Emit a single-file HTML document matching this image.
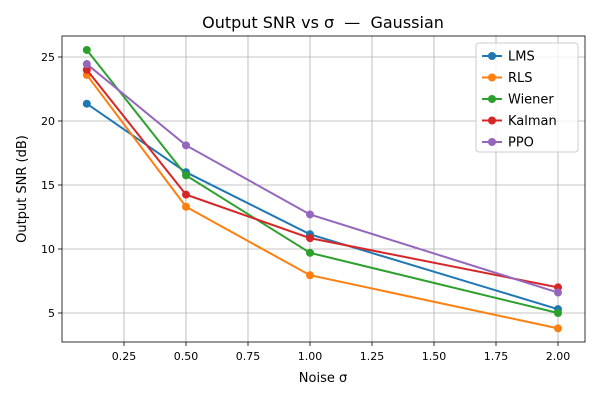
<!DOCTYPE html>
<html><head><meta charset="utf-8">
<style>
body{margin:0;background:#fff;font-family:"Liberation Sans","DejaVu Sans",sans-serif;}
svg text{font-family:"DejaVu Sans","Liberation Sans",sans-serif;}
</style></head>
<body>
<svg id="chart" width="600" height="400" viewBox="0 0 600 400" xmlns="http://www.w3.org/2000/svg">
<rect width="600" height="400" fill="#fff"/>
<text x="323" y="28" text-anchor="middle" font-size="16" fill="#000" style="white-space:pre">Output SNR vs σ  —  Gaussian</text>
<g id="grid"></g>
<g id="axes"></g>
<g id="series"></g>
<text x="323" y="382" text-anchor="middle" font-size="13">Noise σ</text>
<text transform="translate(26,189) rotate(-90)" text-anchor="middle" font-size="13">Output SNR (dB)</text>
<g id="legend"></g>
</svg>
<script>
const xValues=[0.1,0.5,1.0,2.0];
const seriesNames=["LMS","RLS","Wiener","Kalman","PPO"];
const seriesColors=["#1f77b4","#ff7f0e","#2ca02c","#d62728","#9467bd"];
const lmsValues=[21.35,16.0,11.15,5.3];
const rlsValues=[23.6,13.3,7.95,3.8];
const wienerValues=[25.55,15.75,9.7,5.0];
const kalmanValues=[24.0,14.25,10.85,7.0];
const ppoValues=[24.45,18.1,12.7,6.6];
const xTicks=[0.25,0.5,0.75,1.0,1.25,1.5,1.75,2.0];
const xTickLabels=["0.25","0.50","0.75","1.00","1.25","1.50","1.75","2.00"];
const yTicks=[5,10,15,20,25];
const NS="http://www.w3.org/2000/svg";
const L=62,R=585,T=36,B=342;
function xs(v){return 124+(v-0.25)*248;}
function ys(v){return 313-(v-5)*12.8;}
function mk(tag,attrs,parent){const e=document.createElementNS(NS,tag);for(const k in attrs)e.setAttribute(k,attrs[k]);parent.appendChild(e);return e;}
const grid=document.getElementById('grid'),axes=document.getElementById('axes'),ser=document.getElementById('series'),leg=document.getElementById('legend');
xTicks.forEach((t,i)=>{const x=xs(t);
 const g=mk('line',{x1:x,x2:x,y1:T,y2:B,stroke:'#b0b0b0','stroke-width':0.8},grid);
 
 
 mk('line',{x1:x,x2:x,y1:B,y2:B+4,stroke:'#000','stroke-width':0.8},axes);
 const tx=mk('text',{x:x,y:B+18,'text-anchor':'middle','font-size':11},axes);tx.textContent=xTickLabels[i];
 
 });
yTicks.forEach(t=>{const y=ys(t);
 const g=mk('line',{x1:L,x2:R,y1:y,y2:y,stroke:'#b0b0b0','stroke-width':0.8},grid);
 
 
 mk('line',{x1:L-4,x2:L,y1:y,y2:y,stroke:'#000','stroke-width':0.8},axes);
 const tx=mk('text',{x:L-7,y:y+4,'text-anchor':'end','font-size':11},axes);tx.textContent=t;
 
 });
const frame=mk('rect',{x:L,y:T,width:R-L,height:B-T,fill:'none',stroke:'#000','stroke-width':0.8},axes);


const allVals=[lmsValues,rlsValues,wienerValues,kalmanValues,ppoValues];
allVals.forEach((vals,si)=>{const c=seriesColors[si];
 const pts=vals.map((v,i)=>xs(xValues[i])+','+ys(v)).join(' ');
 const pl=mk('polyline',{points:pts,fill:'none',stroke:c,'stroke-width':2},ser);
 
 
 vals.forEach((v,i)=>{const m=mk('circle',{cx:xs(xValues[i]),cy:ys(v),r:4,fill:c},ser);
  
  });});
const box=mk('rect',{x:476,y:43,width:102,height:109,rx:3,fill:'#fff','fill-opacity':0.8,stroke:'#ccc'},leg);


seriesNames.forEach((n,i)=>{const y=56+i*21.5,c=seriesColors[i];
 const g=mk('g',{},leg);
 
 
 mk('line',{x1:482,x2:502,y1:y,y2:y,stroke:c,'stroke-width':2},g);
 mk('circle',{cx:492,cy:y,r:4,fill:c},g);
 const t=mk('text',{x:508,y:y+4.5,'font-size':13},g);t.textContent=n;});
</script>
</body></html>
